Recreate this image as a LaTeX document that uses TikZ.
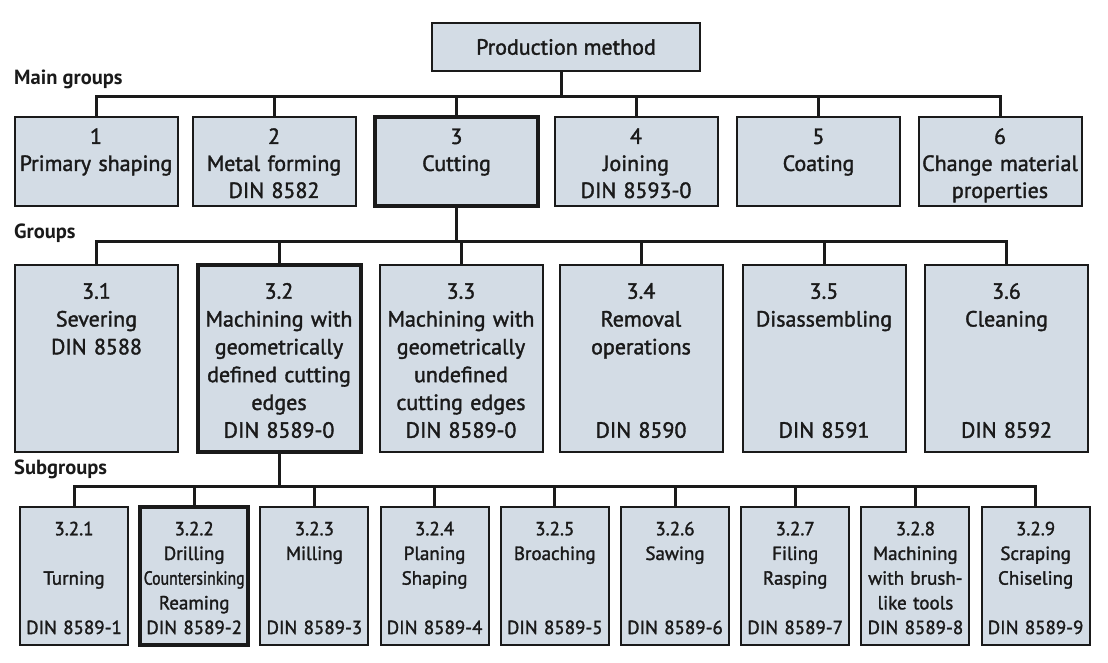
\documentclass[tikz,border=0pt]{standalone}
\usepackage{fontspec}
\setmainfont{PT Sans}
\newfontfamily\boxfont{PT Sans}[FakeBold=1.6]
\usepackage{graphicx}
\definecolor{boxfill}{HTML}{D3DCE5}
\definecolor{ink}{HTML}{1A1A1A}
% first-line strut one full baselineskip tall
\newcommand\tallstrut{\rule{0pt}{\baselineskip}}
\begin{document}
\begin{tikzpicture}[x=1pt,y=-1pt,
  box/.style={draw=ink, fill=boxfill, line width=2pt, align=center, inner sep=0pt, text=ink},
  maingrp/.style={box, minimum width=163pt, minimum height=87pt, text width=160pt, font=\boxfont\fontsize{22}{27}\selectfont},
  grp/.style={box, minimum width=163pt, minimum height=187pt, text width=160pt, font=\boxfont\fontsize{22}{27.8}\selectfont},
  subgrp/.style={box, minimum width=108pt, minimum height=138pt, text width=106pt, font=\boxfont\fontsize{19}{24.7}\selectfont},
  hot/.style={line width=4pt},
  wire/.style={draw=ink, line width=3pt},
  lbl/.style={anchor=west, font=\bfseries\fontsize{20.5}{24}\selectfont, text=ink, inner sep=0pt}
]
\useasboundingbox (0,0) rectangle (1108,662);

% root
\node[box, minimum width=268pt, minimum height=48pt, font=\boxfont\fontsize{22}{27}\selectfont] (pm) at (566,47) {Production method};

% level labels
\node[lbl] (lmain) at (14,79) {Main groups};
\node[lbl] (lgrp) at (14,233) {Groups};
\node[lbl] (lsub) at (14,469) {Subgroups};

% main groups
\node[maingrp] (m1) at (96,161.5) {\tallstrut 1\\Primary shaping\\\mbox{}\strut};
\node[maingrp] (m2) at (274,161.5) {\tallstrut 2\\Metal forming\\DIN 8582\strut};
\node[maingrp,hot] (m3) at (456.5,161.5) {\tallstrut 3\\Cutting\\\mbox{}\strut};
\node[maingrp] (m4) at (636,161.5) {\tallstrut 4\\Joining\\DIN 8593-0\strut};
\node[maingrp] (m5) at (818.5,161.5) {\tallstrut 5\\Coating\\\mbox{}\strut};
\node[maingrp] (m6) at (1000,161.5) {\tallstrut 6\\Change material\\properties\strut};

% groups
\node[grp] (g1) at (96.5,358.5) {\tallstrut 3.1\\Severing\\DIN 8588\\\mbox{}\\\mbox{}\\\mbox{}\strut};
\node[grp,hot] (g2) at (279,358.5) {\tallstrut 3.2\\Machining with\\geometrically\\defined cutting\\edges\\DIN 8589-0\strut};
\node[grp] (g3) at (461,358.5) {\tallstrut 3.3\\Machining with\\geometrically\\undefined\\cutting edges\\DIN 8589-0\strut};
\node[grp] (g4) at (641,358.5) {\tallstrut 3.4\\Removal\\operations\\\mbox{}\\\mbox{}\\DIN 8590\strut};
\node[grp] (g5) at (824,358.5) {\tallstrut 3.5\\Disassembling\\\mbox{}\\\mbox{}\\\mbox{}\\DIN 8591\strut};
\node[grp] (g6) at (1006.5,358.5) {\tallstrut 3.6\\Cleaning\\\mbox{}\\\mbox{}\\\mbox{}\\DIN 8592\strut};

% subgroups
\node[subgrp] (s1) at (74,576) {\tallstrut 3.2.1\\\mbox{}\\Turning\\\mbox{}\\DIN 8589-1\strut};
\node[subgrp,hot] (s2) at (194.2,576) {\tallstrut 3.2.2\\Drilling\\\scalebox{0.83}[1]{Countersinking}\\Reaming\\DIN 8589-2\strut};
\node[subgrp] (s3) at (314.4,576) {\tallstrut 3.2.3\\Milling\\\mbox{}\\\mbox{}\\DIN 8589-3\strut};
\node[subgrp] (s4) at (434.6,576) {\tallstrut 3.2.4\\Planing\\Shaping\\\mbox{}\\DIN 8589-4\strut};
\node[subgrp] (s5) at (554.8,576) {\tallstrut 3.2.5\\Broaching\\\mbox{}\\\mbox{}\\DIN 8589-5\strut};
\node[subgrp] (s6) at (675,576) {\tallstrut 3.2.6\\Sawing\\\mbox{}\\\mbox{}\\DIN 8589-6\strut};
\node[subgrp] (s7) at (795.2,576) {\tallstrut 3.2.7\\Filing\\Rasping\\\mbox{}\\DIN 8589-7\strut};
\node[subgrp] (s8) at (915.4,576) {\tallstrut 3.2.8\\Machining\\with brush-\\like tools\\DIN 8589-8\strut};
\node[subgrp] (s9) at (1035.6,576) {\tallstrut 3.2.9\\Scraping\\Chiseling\\\mbox{}\\DIN 8589-9\strut};

% bus heights
\coordinate (b1) at (0,96);
\coordinate (b2) at (0,241);
\coordinate (b3) at (0,486);

% root to main groups
\draw[wire] ([xshift=-5pt]pm.south) -- ([xshift=-5pt]pm.south |- b1);
\draw[wire] (m1.north) |- (b1 -| m6.north) -- (m6.north);
\foreach \n in {m2,m3,m4,m5} \draw[wire] (\n.north |- b1) -- (\n.north);

% cutting to groups
\draw[wire] (m3.south) -- (m3.south |- b2);
\draw[wire] (g1.north) |- (b2 -| g6.north) -- (g6.north);
\foreach \n in {g2,g3,g4,g5} \draw[wire] (\n.north |- b2) -- (\n.north);

% machining (3.2) to subgroups
\draw[wire] (g2.south) -- (g2.south |- b3);
\draw[wire] (s1.north) |- (b3 -| s9.north) -- (s9.north);
\foreach \n in {s2,s3,s4,s5,s6,s7,s8} \draw[wire] (\n.north |- b3) -- (\n.north);
\end{tikzpicture}
\end{document}
